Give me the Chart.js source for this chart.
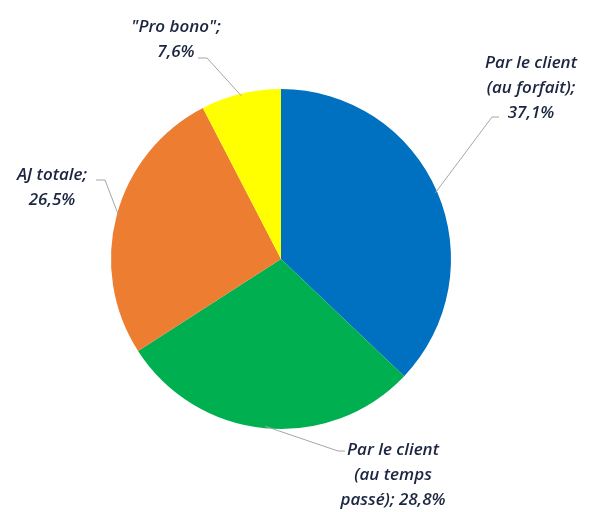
<!DOCTYPE html>
<html>
<head>
<meta charset="utf-8">
<script src="https://cdn.jsdelivr.net/npm/chart.js@4.4.0/dist/chart.umd.min.js"></script>
<style>
  html, body { margin: 0; padding: 0; background: #fff; }
  #wrap { width: 598px; height: 512px; }
</style>
</head>
<body>
<div id="wrap"><canvas id="pie" width="598" height="512"></canvas></div>
<script>
// ── Data ──────────────────────────────────────────────────
const categories = [
  ["Par le client", "(au forfait)"],
  ["Par le client", "(au temps", "passé)"],
  ["AJ totale"],
  ["\"Pro bono\""]
];
const values = [37.1, 28.8, 26.5, 7.6];
const colors = ["#0070C0", "#00B050", "#ED7D31", "#FFFF00"];

// ── Label layout (style only) ─────────────────────────────
// value on same line as last category line?
const valueInline = [false, true, false, false];
// label block centre, relative to the pie centre
const labelOffset = [[250, -171], [112, 216], [-229, -71], [-105, -219]];
// elbow of leader line, relative to the pie centre
const elbowOffset = [[211, -142], [57, 192], [-176, -79], [-74, -201]];
const lineH = 25;

const fmt = v => v.toFixed(1).replace(".", ",") + "%";

function labelLines(i) {
  const lines = categories[i].slice();
  lines[lines.length - 1] += ";";
  if (valueInline[i]) lines[lines.length - 1] += " " + fmt(values[i]);
  else lines.push(fmt(values[i]));
  return lines;
}

// ── Leader-line labels plugin ─────────────────────────────
const leaderLabels = {
  id: "leaderLabels",
  afterDatasetsDraw(chart) {
    const ctx = chart.ctx;
    const meta = chart.getDatasetMeta(0);
    ctx.save();
    meta.data.forEach((arc, i) => {
      const p = arc.getProps(["x", "y", "startAngle", "endAngle", "outerRadius"], true);
      const mid = (p.startAngle + p.endAngle) / 2;
      const r = p.outerRadius - 2;
      const ax = p.x + Math.cos(mid) * r;
      const ay = p.y + Math.sin(mid) * r;
      const ex = p.x + elbowOffset[i][0];
      const ey = p.y + elbowOffset[i][1];
      const lines = labelLines(i);
      const cx = p.x + labelOffset[i][0];
      const cy = p.y + labelOffset[i][1];
      const top = cy - (lines.length - 1) * lineH / 2;

      // leader line
      ctx.strokeStyle = "#a6a6a6";
      ctx.lineWidth = 1;
      ctx.beginPath();
      ctx.moveTo(ax, ay);
      ctx.lineTo(ex, ey);
      ctx.lineTo(ex + (ex > p.x ? 7 : -9), ey);
      ctx.stroke();

      // text
      ctx.fillStyle = "#1B2540";
      ctx.font = "italic 600 17px 'Open Sans', sans-serif";
      ctx.textAlign = "center";
      ctx.textBaseline = "middle";
      lines.forEach((t, k) => ctx.fillText(t, cx, top + k * lineH));
    });
    ctx.restore();
  }
};

// ── Chart ─────────────────────────────────────────────────
new Chart(document.getElementById("pie").getContext("2d"), {
  type: "pie",
  data: {
    labels: categories,
    datasets: [{
      data: values,
      backgroundColor: colors,
      borderWidth: 0
    }]
  },
  options: {
    responsive: false,
    animation: false,
    layout: { padding: { left: 111, right: 147, top: 89, bottom: 83 } },
    plugins: {
      legend: { display: false },
      tooltip: { enabled: false }
    }
  },
  plugins: [leaderLabels]
});
</script>
</body>
</html>
